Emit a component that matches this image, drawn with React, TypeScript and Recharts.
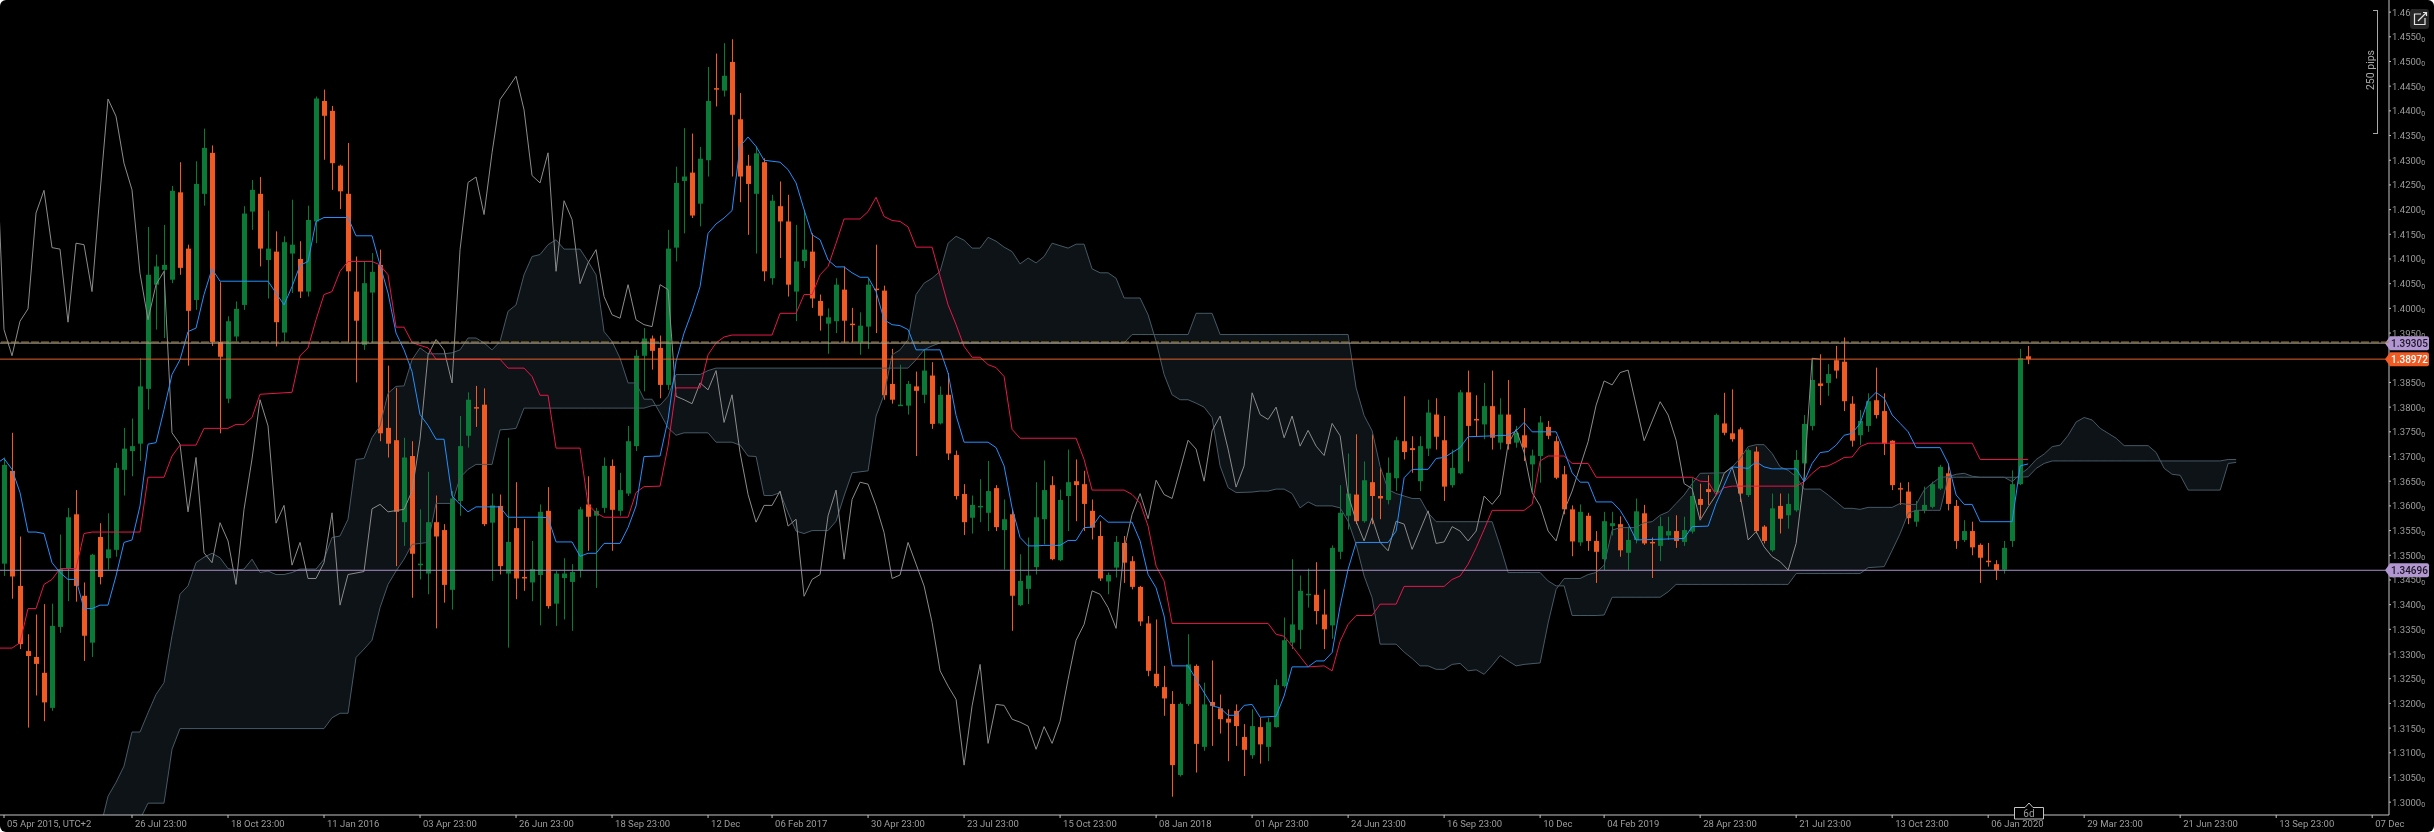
import { ComposedChart, Area, Bar, Line, XAxis, YAxis, ReferenceLine } from 'recharts';

const FONT = 'Roboto, "Noto Sans", sans-serif';
const GREEN = '#0a7b37';
const ORANGE = '#f15a22';
const PURPLE = '#b296d2';

// weekly candles from 05 Apr 2015, one row per bar: open, close, high, low
const candleRows = [
  [1.3483, 1.3683, 1.3698, 1.3458], [1.3671, 1.3457, 1.3748, 1.3412], [1.3438, 1.3320, 1.3538, 1.3310], [1.3306, 1.3296, 1.3340, 1.3151],
  [1.3294, 1.3280, 1.3380, 1.3216], [1.3262, 1.3202, 1.3401, 1.3164], [1.3191, 1.3357, 1.3402, 1.3185], [1.3355, 1.3472, 1.3542, 1.3343],
  [1.3473, 1.3577, 1.3596, 1.3407], [1.3583, 1.3438, 1.3632, 1.3406], [1.3418, 1.3337, 1.3445, 1.3286], [1.3323, 1.3501, 1.3503, 1.3294],
  [1.3537, 1.3456, 1.3565, 1.3441], [1.3494, 1.3512, 1.3585, 1.3471], [1.3511, 1.3677, 1.3687, 1.3497], [1.3673, 1.3716, 1.3758, 1.3621],
  [1.3711, 1.3721, 1.3777, 1.3660], [1.3726, 1.3842, 1.3899, 1.3691], [1.3837, 1.4068, 1.4165, 1.3795], [1.4048, 1.4085, 1.4109, 1.3957],
  [1.4078, 1.4088, 1.4169, 1.3940], [1.4058, 1.4238, 1.4248, 1.4051], [1.4235, 1.4082, 1.4296, 1.4068], [1.4121, 1.3995, 1.4129, 1.3884],
  [1.4017, 1.4252, 1.4298, 1.3997], [1.4232, 1.4325, 1.4364, 1.4208], [1.4315, 1.3932, 1.4330, 1.3924], [1.3932, 1.3902, 1.4053, 1.3747],
  [1.3817, 1.3974, 1.3984, 1.3808], [1.3943, 1.3999, 1.4014, 1.3933], [1.4007, 1.4192, 1.4207, 1.3997], [1.4196, 1.4240, 1.4260, 1.4159],
  [1.4232, 1.4121, 1.4266, 1.4085], [1.4098, 1.4121, 1.4198, 1.4020], [1.4115, 1.3972, 1.4156, 1.3923], [1.3951, 1.4134, 1.4146, 1.3933],
  [1.4111, 1.4129, 1.4220, 1.4031], [1.4100, 1.4034, 1.4136, 1.4021], [1.4034, 1.4179, 1.4208, 1.4024], [1.4176, 1.4425, 1.4429, 1.4132],
  [1.4420, 1.4390, 1.4443, 1.4301], [1.4400, 1.4294, 1.4410, 1.4240], [1.4289, 1.4237, 1.4291, 1.4201], [1.4232, 1.4075, 1.4335, 1.3931],
  [1.4034, 1.3975, 1.4105, 1.3850], [1.3926, 1.4051, 1.4095, 1.3916], [1.4032, 1.4074, 1.4112, 1.3930], [1.4088, 1.3747, 1.4119, 1.3731],
  [1.3758, 1.3726, 1.3884, 1.3698], [1.3733, 1.3588, 1.3839, 1.3478], [1.3567, 1.3698, 1.3738, 1.3519], [1.3701, 1.3503, 1.3731, 1.3414],
  [1.3482, 1.3483, 1.3593, 1.3451], [1.3463, 1.3567, 1.3669, 1.3421], [1.3567, 1.3538, 1.3621, 1.3352], [1.3551, 1.3440, 1.3563, 1.3404],
  [1.3430, 1.3615, 1.3630, 1.3390], [1.3610, 1.3721, 1.3782, 1.3580], [1.3742, 1.3815, 1.3830, 1.3718], [1.3800, 1.3798, 1.3843, 1.3760],
  [1.3805, 1.3563, 1.3838, 1.3559], [1.3566, 1.3601, 1.3625, 1.3448], [1.3600, 1.3478, 1.3623, 1.3461], [1.3463, 1.3527, 1.3738, 1.3313],
  [1.3555, 1.3453, 1.3648, 1.3411], [1.3456, 1.3455, 1.3573, 1.3428], [1.3445, 1.3472, 1.3529, 1.3407], [1.3460, 1.3588, 1.3603, 1.3358],
  [1.3590, 1.3397, 1.3638, 1.3392], [1.3402, 1.3463, 1.3468, 1.3357], [1.3454, 1.3463, 1.3494, 1.3370], [1.3446, 1.3466, 1.3482, 1.3347],
  [1.3469, 1.3593, 1.3598, 1.3455], [1.3603, 1.3578, 1.3660, 1.3509], [1.3580, 1.3590, 1.3596, 1.3434], [1.3596, 1.3681, 1.3698, 1.3586],
  [1.3681, 1.3592, 1.3694, 1.3509], [1.3590, 1.3632, 1.3667, 1.3580], [1.3625, 1.3731, 1.3762, 1.3620], [1.3721, 1.3904, 1.3916, 1.3711],
  [1.3904, 1.3939, 1.3960, 1.3832], [1.3939, 1.3914, 1.3945, 1.3876], [1.3920, 1.3845, 1.3945, 1.3818], [1.3845, 1.4121, 1.4159, 1.3835],
  [1.4123, 1.4254, 1.4287, 1.4095], [1.4258, 1.4267, 1.4365, 1.4152], [1.4275, 1.4188, 1.4354, 1.4183], [1.4212, 1.4303, 1.4327, 1.4166],
  [1.4300, 1.4420, 1.4489, 1.4267], [1.4446, 1.4445, 1.4516, 1.4409], [1.4441, 1.4471, 1.4537, 1.4429], [1.4499, 1.4392, 1.4545, 1.4267],
  [1.4383, 1.4267, 1.4436, 1.4215], [1.4289, 1.4252, 1.4311, 1.4149], [1.4232, 1.4314, 1.4328, 1.4111], [1.4296, 1.4075, 1.4304, 1.4055],
  [1.4061, 1.4218, 1.4230, 1.4048], [1.4207, 1.4176, 1.4257, 1.4102], [1.4176, 1.4048, 1.4230, 1.4024], [1.4034, 1.4095, 1.4169, 1.3974],
  [1.4096, 1.4119, 1.4200, 1.4082], [1.4115, 1.4020, 1.4152, 1.4001], [1.4015, 1.3985, 1.4028, 1.3955], [1.3969, 1.3982, 1.4000, 1.3908],
  [1.3974, 1.4048, 1.4061, 1.3950], [1.4038, 1.3975, 1.4085, 1.3930], [1.3969, 1.3968, 1.4001, 1.3931], [1.3931, 1.3965, 1.3992, 1.3906],
  [1.3963, 1.4048, 1.4061, 1.3918], [1.4040, 1.4039, 1.4129, 1.3950], [1.4036, 1.3824, 1.4046, 1.3815], [1.3847, 1.3815, 1.3918, 1.3807],
  [1.3804, 1.3805, 1.3886, 1.3803], [1.3803, 1.3847, 1.3853, 1.3785], [1.3842, 1.3833, 1.3872, 1.3701], [1.3825, 1.3874, 1.3916, 1.3808],
  [1.3864, 1.3766, 1.3891, 1.3756], [1.3767, 1.3825, 1.3842, 1.3765], [1.3825, 1.3706, 1.3869, 1.3693], [1.3703, 1.3620, 1.3712, 1.3613],
  [1.3624, 1.3567, 1.3644, 1.3541], [1.3576, 1.3602, 1.3621, 1.3544], [1.3599, 1.3600, 1.3654, 1.3567], [1.3586, 1.3630, 1.3691, 1.3549],
  [1.3636, 1.3557, 1.3642, 1.3549], [1.3551, 1.3573, 1.3613, 1.3471], [1.3583, 1.3418, 1.3593, 1.3347], [1.3399, 1.3448, 1.3502, 1.3397],
  [1.3432, 1.3459, 1.3536, 1.3401], [1.3476, 1.3577, 1.3648, 1.3461], [1.3573, 1.3632, 1.3692, 1.3522], [1.3642, 1.3492, 1.3660, 1.3490],
  [1.3490, 1.3612, 1.3633, 1.3488], [1.3620, 1.3648, 1.3714, 1.3549], [1.3650, 1.3642, 1.3694, 1.3569], [1.3644, 1.3604, 1.3671, 1.3549],
  [1.3590, 1.3556, 1.3613, 1.3532], [1.3539, 1.3453, 1.3569, 1.3448], [1.3447, 1.3460, 1.3465, 1.3421], [1.3475, 1.3527, 1.3539, 1.3455],
  [1.3525, 1.3485, 1.3539, 1.3444], [1.3488, 1.3436, 1.3498, 1.3431], [1.3436, 1.3366, 1.3438, 1.3357], [1.3362, 1.3266, 1.3377, 1.3255],
  [1.3260, 1.3235, 1.3370, 1.3232], [1.3233, 1.3210, 1.3276, 1.3175], [1.3199, 1.3075, 1.3225, 1.3011], [1.3055, 1.3199, 1.3202, 1.3052],
  [1.3199, 1.3279, 1.3340, 1.3195], [1.3276, 1.3118, 1.3279, 1.3060], [1.3112, 1.3198, 1.3242, 1.3104], [1.3203, 1.3195, 1.3287, 1.3114],
  [1.3190, 1.3168, 1.3218, 1.3139], [1.3169, 1.3161, 1.3188, 1.3083], [1.3185, 1.3154, 1.3198, 1.3114], [1.3132, 1.3106, 1.3158, 1.3053],
  [1.3095, 1.3154, 1.3188, 1.3088], [1.3152, 1.3117, 1.3171, 1.3078], [1.3112, 1.3162, 1.3171, 1.3083], [1.3152, 1.3237, 1.3249, 1.3151],
  [1.3235, 1.3328, 1.3374, 1.3232], [1.3323, 1.3360, 1.3492, 1.3310], [1.3349, 1.3428, 1.3459, 1.3310], [1.3421, 1.3422, 1.3473, 1.3394],
  [1.3420, 1.3387, 1.3486, 1.3360], [1.3380, 1.3350, 1.3431, 1.3310], [1.3358, 1.3515, 1.3520, 1.3331], [1.3507, 1.3586, 1.3642, 1.3492],
  [1.3580, 1.3625, 1.3706, 1.3552], [1.3623, 1.3569, 1.3745, 1.3563], [1.3569, 1.3652, 1.3690, 1.3566], [1.3648, 1.3620, 1.3745, 1.3563],
  [1.3620, 1.3615, 1.3677, 1.3573], [1.3612, 1.3667, 1.3698, 1.3603], [1.3656, 1.3733, 1.3740, 1.3630], [1.3731, 1.3709, 1.3822, 1.3694],
  [1.3717, 1.3713, 1.3741, 1.3667], [1.3650, 1.3721, 1.3741, 1.3630], [1.3716, 1.3789, 1.3815, 1.3701], [1.3785, 1.3740, 1.3818, 1.3714],
  [1.3733, 1.3639, 1.3782, 1.3610], [1.3642, 1.3677, 1.3714, 1.3637], [1.3666, 1.3830, 1.3835, 1.3664], [1.3830, 1.3762, 1.3874, 1.3690],
  [1.3776, 1.3775, 1.3824, 1.3740], [1.3765, 1.3802, 1.3849, 1.3735], [1.3802, 1.3738, 1.3874, 1.3714], [1.3728, 1.3785, 1.3818, 1.3714],
  [1.3785, 1.3725, 1.3855, 1.3714], [1.3728, 1.3748, 1.3762, 1.3718], [1.3743, 1.3718, 1.3798, 1.3691], [1.3684, 1.3702, 1.3714, 1.3627],
  [1.3701, 1.3769, 1.3782, 1.3647], [1.3760, 1.3742, 1.3772, 1.3735], [1.3731, 1.3657, 1.3741, 1.3654], [1.3664, 1.3593, 1.3681, 1.3583],
  [1.3593, 1.3528, 1.3601, 1.3498], [1.3526, 1.3588, 1.3603, 1.3519], [1.3580, 1.3529, 1.3586, 1.3509], [1.3529, 1.3507, 1.3549, 1.3444],
  [1.3492, 1.3569, 1.3588, 1.3470], [1.3559, 1.3565, 1.3588, 1.3540], [1.3563, 1.3510, 1.3579, 1.3497], [1.3505, 1.3531, 1.3558, 1.3470],
  [1.3531, 1.3589, 1.3615, 1.3524], [1.3585, 1.3524, 1.3602, 1.3521], [1.3527, 1.3526, 1.3536, 1.3454], [1.3519, 1.3559, 1.3578, 1.3488],
  [1.3540, 1.3549, 1.3578, 1.3531], [1.3549, 1.3529, 1.3581, 1.3515], [1.3527, 1.3551, 1.3578, 1.3519], [1.3548, 1.3620, 1.3656, 1.3544],
  [1.3614, 1.3602, 1.3645, 1.3575], [1.3634, 1.3628, 1.3662, 1.3602], [1.3628, 1.3784, 1.3787, 1.3625], [1.3767, 1.3748, 1.3829, 1.3743],
  [1.3747, 1.3735, 1.3836, 1.3730], [1.3755, 1.3625, 1.3759, 1.3608], [1.3622, 1.3713, 1.3716, 1.3618], [1.3710, 1.3549, 1.3720, 1.3544],
  [1.3558, 1.3529, 1.3561, 1.3524], [1.3510, 1.3595, 1.3625, 1.3507], [1.3600, 1.3574, 1.3625, 1.3544], [1.3581, 1.3604, 1.3625, 1.3554],
  [1.3591, 1.3693, 1.3713, 1.3588], [1.3686, 1.3766, 1.3784, 1.3649], [1.3762, 1.3855, 1.3899, 1.3753], [1.3848, 1.3843, 1.3907, 1.3804],
  [1.3849, 1.3867, 1.3887, 1.3823], [1.3895, 1.3874, 1.3924, 1.3858], [1.3892, 1.3812, 1.3941, 1.3792], [1.3807, 1.3732, 1.3822, 1.3720],
  [1.3743, 1.3772, 1.3794, 1.3723], [1.3762, 1.3812, 1.3828, 1.3750], [1.3814, 1.3784, 1.3880, 1.3777], [1.3792, 1.3726, 1.3828, 1.3703],
  [1.3732, 1.3642, 1.3733, 1.3632], [1.3636, 1.3635, 1.3647, 1.3602], [1.3629, 1.3575, 1.3648, 1.3563], [1.3568, 1.3591, 1.3610, 1.3558],
  [1.3591, 1.3602, 1.3639, 1.3585], [1.3598, 1.3644, 1.3649, 1.3595], [1.3635, 1.3679, 1.3683, 1.3632], [1.3666, 1.3604, 1.3686, 1.3591],
  [1.3600, 1.3529, 1.3612, 1.3513], [1.3531, 1.3549, 1.3571, 1.3527], [1.3549, 1.3516, 1.3568, 1.3500], [1.3521, 1.3495, 1.3524, 1.3444],
  [1.3489, 1.3488, 1.3525, 1.3477], [1.3482, 1.3470, 1.3490, 1.3450], [1.3471, 1.3515, 1.3529, 1.3463], [1.3529, 1.3644, 1.3672, 1.3517],
  [1.3644, 1.3899, 1.3918, 1.3642], [1.3903, 1.3897, 1.3924, 1.3887],
];

// conversion line: bar number, price (flat stretches keep only their ends)
const tenkan = [
  [-1, 1.3685], [0, 1.3696], [1, 1.3674], [2, 1.3627], [3, 1.3547], [4, 1.3547], [5, 1.3544], [6, 1.3485], [7, 1.3465], [8, 1.3451], [9, 1.3451], [10, 1.3392], [11, 1.3392], [12, 1.3399], [13, 1.3399], [14, 1.3458], [15, 1.3526], [16, 1.3531], [17, 1.3600], [18, 1.3725], [19, 1.3728], [20, 1.3795], [21, 1.3866], [22, 1.3896], [23, 1.3953], [24, 1.3960], [25, 1.4028], [26, 1.4080], [27, 1.4055], [33, 1.4055], [34, 1.4031], [35, 1.4007], [36, 1.4044], [37, 1.4087], [38, 1.4095], [39, 1.4176], [40, 1.4184], [43, 1.4184], [44, 1.4147], [46, 1.4147], [47, 1.4088], [48, 1.4031], [49, 1.3950], [50, 1.3916], [51, 1.3872], [52, 1.3785], [53, 1.3763], [54, 1.3735], [55, 1.3735], [56, 1.3620], [57, 1.3603], [58, 1.3588], [59, 1.3598], [62, 1.3598], [63, 1.3577], [67, 1.3577], [68, 1.3576], [69, 1.3527], [71, 1.3527], [72, 1.3498], [73, 1.3504], [74, 1.3504], [75, 1.3524], [77, 1.3524], [78, 1.3556], [79, 1.3600], [80, 1.3700], [82, 1.3701], [83, 1.3775], [84, 1.3893], [85, 1.3950], [86, 1.3994], [87, 1.4044], [88, 1.4152], [89, 1.4171], [90, 1.4183], [91, 1.4198], [92, 1.4328], [93, 1.4347], [94, 1.4328], [95, 1.4300], [97, 1.4296], [98, 1.4281], [99, 1.4254],
  [100, 1.4200], [101, 1.4149], [102, 1.4139], [103, 1.4098], [104, 1.4084], [105, 1.4084], [106, 1.4072], [107, 1.4063], [108, 1.4063], [109, 1.4034], [110, 1.3977], [111, 1.3967], [112, 1.3965], [113, 1.3957], [114, 1.3916], [117, 1.3916], [118, 1.3869], [119, 1.3783], [120, 1.3729], [123, 1.3729], [124, 1.3718], [125, 1.3681], [126, 1.3596], [127, 1.3536], [128, 1.3519], [129, 1.3519], [130, 1.3520], [132, 1.3520], [133, 1.3530], [134, 1.3530], [135, 1.3556], [136, 1.3557], [137, 1.3581], [138, 1.3567], [141, 1.3567], [142, 1.3529], [143, 1.3461], [144, 1.3434], [145, 1.3377], [146, 1.3276], [148, 1.3276], [149, 1.3249], [151, 1.3195], [152, 1.3191], [153, 1.3176], [154, 1.3176], [155, 1.3196], [156, 1.3198], [157, 1.3172], [159, 1.3174], [160, 1.3215], [161, 1.3274], [163, 1.3274], [164, 1.3286], [165, 1.3286], [166, 1.3303], [167, 1.3397], [168, 1.3472], [169, 1.3526], [173, 1.3526], [174, 1.3549], [175, 1.3657], [176, 1.3674], [178, 1.3674], [179, 1.3696], [180, 1.3698], [182, 1.3718], [183, 1.3740], [188, 1.3743], [189, 1.3752], [190, 1.3769], [191, 1.3750], [194, 1.3750], [195, 1.3711], [196, 1.3667], [197, 1.3648], [198, 1.3648], [199, 1.3608],
  [201, 1.3608], [202, 1.3591], [203, 1.3564], [204, 1.3531], [210, 1.3534], [211, 1.3558], [213, 1.3559], [214, 1.3605], [215, 1.3642], [216, 1.3679], [218, 1.3676], [219, 1.3689], [220, 1.3679], [221, 1.3675], [224, 1.3675], [225, 1.3649], [226, 1.3686], [227, 1.3708], [228, 1.3710], [229, 1.3723], [230, 1.3743], [231, 1.3747], [232, 1.3767], [233, 1.3814], [234, 1.3830], [235, 1.3818], [236, 1.3784], [237, 1.3767], [238, 1.3750], [239, 1.3718], [242, 1.3718], [243, 1.3686], [244, 1.3622], [245, 1.3603], [246, 1.3603], [247, 1.3568], [251, 1.3568], [252, 1.3681], [253, 1.3685],
];

// base line
const kijun = [
  [-1, 1.3312], [1, 1.3312], [2, 1.3323], [3, 1.3392], [4, 1.3392], [5, 1.3441], [6, 1.3451], [7, 1.3473], [9, 1.3473], [10, 1.3544], [11, 1.3547], [17, 1.3547], [18, 1.3658], [20, 1.3658], [21, 1.3701], [22, 1.3723], [24, 1.3723], [25, 1.3757], [28, 1.3757], [29, 1.3765], [30, 1.3765], [31, 1.3779], [32, 1.3826], [36, 1.3830], [37, 1.3904], [38, 1.3920], [39, 1.3977], [40, 1.4028], [41, 1.4034], [42, 1.4075], [43, 1.4095], [46, 1.4095], [47, 1.4088], [48, 1.4068], [49, 1.3962], [50, 1.3962], [51, 1.3931], [52, 1.3925], [53, 1.3920], [54, 1.3897], [62, 1.3897], [63, 1.3879], [65, 1.3879], [66, 1.3862], [67, 1.3824], [68, 1.3824], [69, 1.3717], [72, 1.3717], [73, 1.3603], [74, 1.3586], [75, 1.3577], [78, 1.3577], [79, 1.3627], [80, 1.3639], [82, 1.3640], [83, 1.3721], [84, 1.3839], [87, 1.3839], [88, 1.3906], [89, 1.3930], [90, 1.3942], [91, 1.3946], [96, 1.3946], [97, 1.3990], [99, 1.3990],
  [100, 1.4028], [101, 1.4028], [102, 1.4068], [103, 1.4085], [104, 1.4132], [105, 1.4181], [107, 1.4181], [108, 1.4196], [109, 1.4225], [110, 1.4186], [111, 1.4178], [112, 1.4176], [113, 1.4165], [114, 1.4124], [116, 1.4124], [117, 1.4065], [118, 1.4007], [119, 1.3967], [120, 1.3923], [121, 1.3901], [122, 1.3901], [123, 1.3886], [124, 1.3880], [125, 1.3862], [126, 1.3755], [127, 1.3737], [134, 1.3737], [135, 1.3694], [136, 1.3632], [140, 1.3632], [141, 1.3623], [142, 1.3606], [143, 1.3559], [144, 1.3478], [145, 1.3448], [146, 1.3362], [158, 1.3362], [159, 1.3340], [160, 1.3336], [161, 1.3316], [163, 1.3274], [165, 1.3276], [166, 1.3266], [167, 1.3326], [168, 1.3360], [169, 1.3378], [171, 1.3378], [172, 1.3401], [174, 1.3401], [175, 1.3437], [180, 1.3437], [181, 1.3451], [182, 1.3458], [183, 1.3482], [184, 1.3515], [185, 1.3552], [186, 1.3591], [190, 1.3591], [191, 1.3603], [192, 1.3691], [193, 1.3701], [195, 1.3701], [196, 1.3686], [198, 1.3686], [199, 1.3658],
  [211, 1.3658], [212, 1.3650], [213, 1.3649], [214, 1.3622], [215, 1.3637], [216, 1.3640], [224, 1.3640], [225, 1.3649], [226, 1.3666], [227, 1.3679], [228, 1.3681], [229, 1.3689], [230, 1.3698], [231, 1.3699], [232, 1.3720], [233, 1.3727], [246, 1.3727], [247, 1.3694], [253, 1.3694],
];

// lagging line, ends 26 bars before the last candle
const chikou = [
  [-1, 1.4348], [0, 1.3957], [1, 1.3904], [2, 1.3974], [3, 1.3999], [4, 1.4193], [5, 1.4239], [6, 1.4123], [7, 1.4120], [8, 1.3972], [9, 1.4132], [10, 1.4129], [11, 1.4034], [12, 1.4233], [13, 1.4424], [14, 1.4389], [15, 1.4294], [16, 1.4240], [17, 1.4071], [18, 1.3977], [19, 1.4048], [20, 1.4075], [21, 1.3748], [22, 1.3725], [23, 1.3588], [24, 1.3698], [25, 1.3505], [26, 1.3485], [27, 1.3566], [28, 1.3529], [29, 1.3441], [30, 1.3593], [31, 1.3695], [32, 1.3815], [33, 1.3762], [34, 1.3565], [35, 1.3601], [36, 1.3480], [37, 1.3526], [38, 1.3453], [39, 1.3453], [40, 1.3485], [41, 1.3586], [42, 1.3399], [43, 1.3461], [45, 1.3467], [46, 1.3594], [47, 1.3603], [48, 1.3588], [50, 1.3593], [51, 1.3630], [52, 1.3735], [53, 1.3906], [54, 1.3937], [55, 1.3916], [56, 1.3849], [57, 1.4119], [58, 1.4255], [59, 1.4266], [60, 1.4190], [61, 1.4315], [62, 1.4423], [63, 1.4446], [64, 1.4470], [65, 1.4402], [66, 1.4269], [67, 1.4254], [68, 1.4315], [69, 1.4075], [70, 1.4218], [71, 1.4180], [72, 1.4050], [73, 1.4092], [74, 1.4119], [75, 1.4024], [76, 1.3987], [77, 1.3980], [78, 1.4048], [79, 1.3977], [80, 1.3967], [81, 1.3963], [82, 1.4048], [83, 1.4038], [84, 1.3822], [85, 1.3815], [86, 1.3807], [87, 1.3849], [88, 1.3835], [89, 1.3874], [90, 1.3769], [91, 1.3825], [92, 1.3708], [93, 1.3623], [94, 1.3567], [95, 1.3601], [96, 1.3601], [97, 1.3630], [98, 1.3559], [99, 1.3573],
  [100, 1.3417], [101, 1.3451], [102, 1.3461], [103, 1.3580], [104, 1.3632], [105, 1.3492], [106, 1.3613], [107, 1.3648], [108, 1.3644], [109, 1.3600], [110, 1.3546], [111, 1.3453], [112, 1.3460], [113, 1.3526], [114, 1.3482], [115, 1.3438], [116, 1.3364], [117, 1.3266], [118, 1.3235], [119, 1.3208], [120, 1.3075], [121, 1.3195], [122, 1.3279], [123, 1.3119], [124, 1.3198], [125, 1.3196], [126, 1.3168], [127, 1.3162], [128, 1.3154], [129, 1.3107], [130, 1.3153], [131, 1.3119], [132, 1.3164], [133, 1.3249], [134, 1.3328], [135, 1.3360], [136, 1.3428], [137, 1.3421], [138, 1.3394], [139, 1.3352], [140, 1.3512], [141, 1.3583], [142, 1.3625], [143, 1.3574], [144, 1.3652], [145, 1.3623], [146, 1.3615], [147, 1.3674], [148, 1.3733], [149, 1.3715], [150, 1.3650], [151, 1.3752], [152, 1.3782], [153, 1.3715], [154, 1.3638], [155, 1.3681], [156, 1.3829], [157, 1.3785], [158, 1.3775], [159, 1.3800], [160, 1.3738], [161, 1.3782], [162, 1.3721], [163, 1.3753], [164, 1.3721], [165, 1.3702], [166, 1.3767], [167, 1.3742], [168, 1.3623], [169, 1.3569], [170, 1.3529], [171, 1.3576], [172, 1.3526], [173, 1.3509], [174, 1.3569], [175, 1.3563], [176, 1.3512], [178, 1.3590], [179, 1.3524], [180, 1.3527], [181, 1.3558], [182, 1.3549], [183, 1.3529], [184, 1.3549], [185, 1.3620], [186, 1.3603], [187, 1.3623], [188, 1.3725], [189, 1.3755], [190, 1.3708], [191, 1.3627], [192, 1.3600], [193, 1.3549], [194, 1.3529], [195, 1.3590], [196, 1.3630], [197, 1.3680], [198, 1.3730], [199, 1.3804],
  [200, 1.3853], [201, 1.3845], [202, 1.3870], [203, 1.3875], [205, 1.3732], [207, 1.3811], [208, 1.3784], [209, 1.3733], [210, 1.3645], [211, 1.3635], [212, 1.3571], [213, 1.3598], [214, 1.3622], [215, 1.3666], [216, 1.3679], [217, 1.3622], [218, 1.3531], [219, 1.3548], [220, 1.3517], [221, 1.3497], [222, 1.3487], [223, 1.3470], [224, 1.3524], [225, 1.3659], [226, 1.3899], [227, 1.3897],
];

// cloud: bar number, leading span A, leading span B (the last 26 bars run ahead of price)
const cloudRows = [
  [12, 1.2945, 1.2900], [13, 1.3012, 1.2900], [14, 1.3040, 1.2900], [15, 1.3073, 1.2920], [16, 1.3142, 1.2930], [17, 1.3142, 1.2965], [18, 1.3181, 1.2998], [19, 1.3218, 1.2998], [20, 1.3242, 1.2998], [21, 1.3337, 1.3107], [22, 1.3421, 1.3149], [23, 1.3438, 1.3149], [24, 1.3485, 1.3149], [25, 1.3496, 1.3149], [26, 1.3504, 1.3149], [27, 1.3495, 1.3149], [28, 1.3473, 1.3149], [29, 1.3470, 1.3149], [30, 1.3472, 1.3149], [31, 1.3492, 1.3149], [32, 1.3465, 1.3149], [33, 1.3468, 1.3149], [34, 1.3461, 1.3149], [35, 1.3461, 1.3149], [36, 1.3465, 1.3149], [37, 1.3472, 1.3149], [39, 1.3472, 1.3149], [40, 1.3492, 1.3149], [41, 1.3536, 1.3171], [42, 1.3539, 1.3180], [43, 1.3573, 1.3180], [44, 1.3694, 1.3293], [45, 1.3696, 1.3310], [46, 1.3738, 1.3328], [47, 1.3762, 1.3394], [48, 1.3828, 1.3441], [49, 1.3842, 1.3468], [50, 1.3843, 1.3492], [51, 1.3896, 1.3522], [52, 1.3920, 1.3524], [53, 1.3908, 1.3526], [54, 1.3908, 1.3605], [55, 1.3908, 1.3605], [56, 1.3910, 1.3605], [57, 1.3916, 1.3657], [58, 1.3940, 1.3674], [59, 1.3940, 1.3684], [60, 1.3930, 1.3684], [61, 1.3916, 1.3684], [62, 1.3933, 1.3754], [63, 1.3994, 1.3755], [64, 1.4007, 1.3757], [65, 1.4068, 1.3798], [66, 1.4105, 1.3798], [67, 1.4109, 1.3798], [68, 1.4129, 1.3798], [69, 1.4139, 1.3798], [70, 1.4120, 1.3798], [72, 1.4120, 1.3798], [73, 1.4095, 1.3798], [74, 1.4068, 1.3798], [75, 1.3953, 1.3798], [76, 1.3933, 1.3798], [77, 1.3899, 1.3798], [78, 1.3849, 1.3798], [79, 1.3849, 1.3798], [80, 1.3816, 1.3798], [81, 1.3816, 1.3803], [82, 1.3788, 1.3804], [83, 1.3758, 1.3822], [84, 1.3743, 1.3866], [85, 1.3748, 1.3866], [87, 1.3748, 1.3866], [88, 1.3748, 1.3874], [89, 1.3729, 1.3879], [91, 1.3729, 1.3879], [92, 1.3723, 1.3879], [93, 1.3701, 1.3879], [94, 1.3700, 1.3879], [95, 1.3621, 1.3879], [96, 1.3621, 1.3879], [97, 1.3627, 1.3879], [98, 1.3586, 1.3879], [99, 1.3549, 1.3879],
  [100, 1.3544, 1.3879], [101, 1.3550, 1.3879], [103, 1.3550, 1.3879], [104, 1.3569, 1.3879], [105, 1.3620, 1.3879], [106, 1.3667, 1.3879], [108, 1.3671, 1.3879], [109, 1.3782, 1.3879], [110, 1.3825, 1.3879], [111, 1.3906, 1.3879], [112, 1.3916, 1.3879], [113, 1.3937, 1.3879], [114, 1.4028, 1.3896], [115, 1.4051, 1.3916], [116, 1.4061, 1.3924], [117, 1.4075, 1.3930], [118, 1.4132, 1.3930], [119, 1.4146, 1.3930], [120, 1.4138, 1.3930], [121, 1.4122, 1.3930], [122, 1.4122, 1.3930], [123, 1.4144, 1.3930], [124, 1.4136, 1.3930], [125, 1.4124, 1.3930], [126, 1.4115, 1.3930], [127, 1.4090, 1.3930], [128, 1.4102, 1.3930], [129, 1.4092, 1.3930], [130, 1.4105, 1.3930], [131, 1.4132, 1.3930], [132, 1.4127, 1.3930], [133, 1.4122, 1.3930], [134, 1.4130, 1.3930], [135, 1.4130, 1.3930], [136, 1.4080, 1.3930], [137, 1.4072, 1.3930], [138, 1.4072, 1.3930], [139, 1.4061, 1.3930], [140, 1.4021, 1.3930], [141, 1.4021, 1.3947], [142, 1.4021, 1.3947], [143, 1.3987, 1.3947], [144, 1.3933, 1.3947], [145, 1.3866, 1.3947], [146, 1.3825, 1.3947], [147, 1.3815, 1.3947], [148, 1.3815, 1.3947], [149, 1.3808, 1.3990], [150, 1.3800, 1.3990], [151, 1.3779, 1.3990], [152, 1.3681, 1.3947], [153, 1.3637, 1.3947], [154, 1.3627, 1.3947], [156, 1.3628, 1.3947], [157, 1.3630, 1.3947], [158, 1.3630, 1.3947], [159, 1.3634, 1.3947], [160, 1.3634, 1.3947], [161, 1.3625, 1.3947], [162, 1.3596, 1.3947], [163, 1.3608, 1.3947], [164, 1.3600, 1.3947], [166, 1.3600, 1.3947], [167, 1.3596, 1.3947], [168, 1.3569, 1.3947], [169, 1.3522, 1.3839], [170, 1.3458, 1.3783], [171, 1.3414, 1.3752], [172, 1.3320, 1.3680], [173, 1.3320, 1.3633], [174, 1.3320, 1.3625], [175, 1.3304, 1.3620], [176, 1.3291, 1.3615], [177, 1.3276, 1.3615], [178, 1.3276, 1.3586], [179, 1.3269, 1.3568], [180, 1.3269, 1.3568], [181, 1.3279, 1.3568], [182, 1.3281, 1.3568], [183, 1.3266, 1.3568], [184, 1.3268, 1.3568], [185, 1.3259, 1.3568], [186, 1.3277, 1.3568], [187, 1.3297, 1.3519], [188, 1.3286, 1.3465], [189, 1.3276, 1.3465], [190, 1.3279, 1.3465], [192, 1.3282, 1.3465], [193, 1.3363, 1.3448], [194, 1.3431, 1.3438], [195, 1.3453, 1.3438], [196, 1.3453, 1.3378], [197, 1.3453, 1.3378], [198, 1.3461, 1.3378], [199, 1.3465, 1.3378],
  [200, 1.3480, 1.3379], [201, 1.3551, 1.3415], [202, 1.3556, 1.3415], [204, 1.3556, 1.3415], [205, 1.3566, 1.3415], [206, 1.3568, 1.3415], [207, 1.3581, 1.3415], [208, 1.3588, 1.3426], [209, 1.3605, 1.3441], [210, 1.3622, 1.3441], [211, 1.3645, 1.3441], [212, 1.3666, 1.3441], [215, 1.3667, 1.3441], [216, 1.3679, 1.3441], [217, 1.3696, 1.3441], [218, 1.3720, 1.3441], [219, 1.3724, 1.3441], [220, 1.3724, 1.3441], [221, 1.3706, 1.3441], [222, 1.3679, 1.3441], [223, 1.3672, 1.3441], [224, 1.3659, 1.3463], [225, 1.3634, 1.3463], [227, 1.3634, 1.3463], [228, 1.3622, 1.3463], [230, 1.3595, 1.3463], [231, 1.3595, 1.3463], [232, 1.3593, 1.3463], [233, 1.3597, 1.3475], [235, 1.3597, 1.3477], [236, 1.3597, 1.3510], [237, 1.3605, 1.3544], [238, 1.3603, 1.3585], [239, 1.3603, 1.3591], [240, 1.3632, 1.3591], [241, 1.3646, 1.3591], [242, 1.3658, 1.3591], [243, 1.3659, 1.3658], [244, 1.3664, 1.3658], [245, 1.3666, 1.3658], [246, 1.3660, 1.3658], [247, 1.3658, 1.3658], [250, 1.3658, 1.3658], [251, 1.3649, 1.3658], [252, 1.3664, 1.3658], [253, 1.3676, 1.3659], [254, 1.3694, 1.3676], [255, 1.3705, 1.3686], [256, 1.3720, 1.3691], [257, 1.3723, 1.3691], [258, 1.3743, 1.3691], [259, 1.3770, 1.3691], [260, 1.3779, 1.3691], [261, 1.3774, 1.3691], [262, 1.3757, 1.3691], [263, 1.3747, 1.3691], [264, 1.3737, 1.3691], [265, 1.3722, 1.3691], [268, 1.3722, 1.3691], [269, 1.3708, 1.3691], [270, 1.3676, 1.3691], [271, 1.3664, 1.3691], [272, 1.3662, 1.3691], [273, 1.3632, 1.3691], [277, 1.3632, 1.3691], [278, 1.3686, 1.3694], [279, 1.3688, 1.3694],
];

// 1.3900 sits behind the last-price tag in the reference, so it is left out
const priceTicks = [
  1.30, 1.305, 1.31, 1.315, 1.32, 1.325, 1.33, 1.335, 1.34, 1.345, 1.35, 1.355, 1.36, 1.365, 1.37, 1.375, 1.38, 1.385, 1.395,
  1.40, 1.405, 1.41, 1.415, 1.42, 1.425, 1.43, 1.435, 1.44, 1.445, 1.45, 1.455, 1.46,
];
const timeTickBars = [0, 16, 28, 40, 52, 64, 76, 88, 96, 108, 120, 132, 144, 156, 168, 180, 192, 200, 212, 224, 236, 248, 260, 272, 284, 296];
const timeTickLabels = [
  '05 Apr 2015, UTC+2', '26 Jul 23:00', '18 Oct 23:00', '11 Jan 2016', '03 Apr 23:00', '26 Jun 23:00', '18 Sep 23:00', '12 Dec', '06 Feb 2017',
  '30 Apr 23:00', '23 Jul 23:00', '15 Oct 23:00', '08 Jan 2018', '01 Apr 23:00', '24 Jun 23:00', '16 Sep 23:00', '10 Dec', '04 Feb 2019',
  '28 Apr 23:00', '21 Jul 23:00', '13 Oct 23:00', '06 Jan 2020', '29 Mar 23:00', '21 Jun 23:00', '13 Sep 23:00', '07 Dec',
];

const LAST_BAR = 298;
const table: any[] = [];
for (let i = -1; i <= LAST_BAR; i++) table.push({ bar: i });
const row = (i: number) => table[i + 1];
candleRows.forEach(([o, c, h, l], i) => {
  Object.assign(row(i), { open: o, close: c, high: h, low: l, range: [l, h] });
});
tenkan.forEach(([i, v]) => { row(i).tenkan = v; });
kijun.forEach(([i, v]) => { row(i).kijun = v; });
chikou.forEach(([i, v]) => { row(i).chikou = v; });
cloudRows.forEach(([i, a, b]) => { Object.assign(row(i), { spanA: a, spanB: b, cloud: [a, b] }); });

function Candle(props: any) {
  const { x, y, width, height, payload } = props;
  if (!payload || payload.high == null) return null;
  const { open, close, high, low } = payload;
  const perPrice = height / (high - low);
  const top = y + (high - Math.max(open, close)) * perPrice;
  const bodyH = Math.max(Math.abs(open - close) * perPrice, 1.5);
  const fill = close >= open ? GREEN : ORANGE;
  const cx = Math.floor(x + width / 2);
  return (
    <g>
      <rect x={cx} y={y} width={1} height={height} fill={fill} />
      <rect x={cx - 2} y={top} width={5} height={bodyH} fill={fill} />
    </g>
  );
}

function PriceTick({ x, y, payload }: any) {
  return (
    <g>
      <line x1={x - 8} x2={x - 6} y1={y} y2={y} stroke="#c4c4c4" />
      <text x={x - 5} y={y + 3.5} fill="#9c9c9c" fontSize={9.5} fontFamily={FONT}>
        {payload.value.toFixed(4)}
        <tspan fontSize={7} dy={1.5}>0</tspan>
      </text>
    </g>
  );
}

function TimeTick({ x, y, payload }: any) {
  const label = timeTickLabels[timeTickBars.indexOf(payload.value)];
  return (
    <g>
      <line x1={x} x2={x} y1={y - 8} y2={y - 5} stroke="#c4c4c4" />
      <text x={x + 3} y={y + 4} fill="#9c9c9c" fontSize={9.5} fontFamily={FONT}>{label}</text>
    </g>
  );
}

function PriceTag({ viewBox, text, fill, color }: any) {
  const x = viewBox.x + viewBox.width;
  const y = viewBox.y;
  return (
    <g>
      <path d={`M${x - 4} ${y} L${x + 1} ${y - 7} H${x + 38} Q${x + 40} ${y - 7} ${x + 40} ${y - 5} V${y + 5} Q${x + 40} ${y + 7} ${x + 38} ${y + 7} H${x + 1} Z`} fill={fill} />
      <text x={x + 2} y={y + 3.5} fontSize={10} fontWeight={500} fontFamily={FONT} fill={color}>{text}</text>
    </g>
  );
}

export default function App() {
  return (
    <div style={{ position: 'fixed', left: 0, top: 0, width: 2434, height: 832, background: '#000', borderRadius: 6, overflow: 'hidden' }}>
      <ComposedChart width={2434} height={832} data={table} margin={{ top: 0, right: 0, bottom: 0, left: 0 }}>
        <XAxis
          dataKey="bar"
          type="number"
          domain={[-0.5, 298.1]}
          allowDataOverflow
          ticks={timeTickBars}
          interval={0}
          height={17}
          stroke="#c4c4c4"
          tickLine={false}
          tick={<TimeTick />}
        />
        <YAxis
          orientation="right"
          type="number"
          domain={[1.2974, 1.46245]}
          allowDataOverflow
          ticks={priceTicks}
          interval={0}
          width={45}
          stroke="#c4c4c4"
          tickLine={false}
          tick={<PriceTick />}
        />
        <Area dataKey="cloud" connectNulls stroke="none" fill="#0d1316" fillOpacity={1} dot={false} activeDot={false} isAnimationActive={false} />
        <Line dataKey="spanA" connectNulls stroke="#465a65" strokeWidth={1} dot={false} activeDot={false} isAnimationActive={false} />
        <Line dataKey="spanB" connectNulls stroke="#465a65" strokeWidth={1} dot={false} activeDot={false} isAnimationActive={false} />
        <Line dataKey="chikou" connectNulls stroke="#8c8c8c" strokeWidth={1} dot={false} activeDot={false} isAnimationActive={false} />
        <Bar dataKey="range" barSize={5} shape={<Candle />} isAnimationActive={false} />
        <Line dataKey="kijun" connectNulls stroke="#e8174a" strokeWidth={1} dot={false} activeDot={false} isAnimationActive={false} />
        <Line dataKey="tenkan" connectNulls stroke="#2490ff" strokeWidth={1} dot={false} activeDot={false} isAnimationActive={false} />
        <ReferenceLine y={1.39296} stroke="#a9a0ac" zIndex={1000} label={<PriceTag text="1.39305" fill={PURPLE} color="#1c1624" />} />
        <ReferenceLine y={1.39318} stroke="#a88a2a" strokeDasharray="8 2" zIndex={1000} />
        <ReferenceLine y={1.38972} stroke="#e4602c" zIndex={1000} label={<PriceTag text="1.38972" fill={ORANGE} color="#fff" />} />
        <ReferenceLine y={1.34696} stroke="#a98fc6" zIndex={1000} label={<PriceTag text="1.34696" fill={PURPLE} color="#1c1624" />} />
      </ComposedChart>

      {/* 250 pip ruler */}
      <div style={{ position: 'absolute', left: 2373, top: 10, width: 4, height: 122, border: '1px solid #a8a8a8', borderLeft: 'none' }} />
      <div style={{ position: 'absolute', left: 2346, top: 63, width: 50, textAlign: 'center', transform: 'rotate(-90deg)', color: '#a8a8a8', fontFamily: FONT, fontSize: 10.5, lineHeight: '14px' }}>250 pips</div>

      {/* open-in-new-window button */}
      <svg style={{ position: 'absolute', left: 2410, top: 9 }} width={19} height={20}>
        <rect width={19} height={20} rx={3} fill="#262626" />
        <path d="M11 5 H4.5 V15.5 H15 V9" fill="none" stroke="#e4e4e4" strokeWidth={1.2} />
        <path d="M8 12 L16 4 M13 3.5 H16.5 V7" fill="none" stroke="#e4e4e4" strokeWidth={1.2} />
      </svg>

      {/* countdown badge on the time axis */}
      <svg style={{ position: 'absolute', left: 2012, top: 800 }} width={34} height={21}>
        <path d="M2.5 7.5 H13 L17 3 L21 7.5 H31.5 V19 H2.5 Z" fill="#000" stroke="#c4c4c4" />
        <text x={17} y={17} textAnchor="middle" fontSize={10} fontFamily={FONT} fill="#9c9c9c">6d</text>
      </svg>
    </div>
  );
}
